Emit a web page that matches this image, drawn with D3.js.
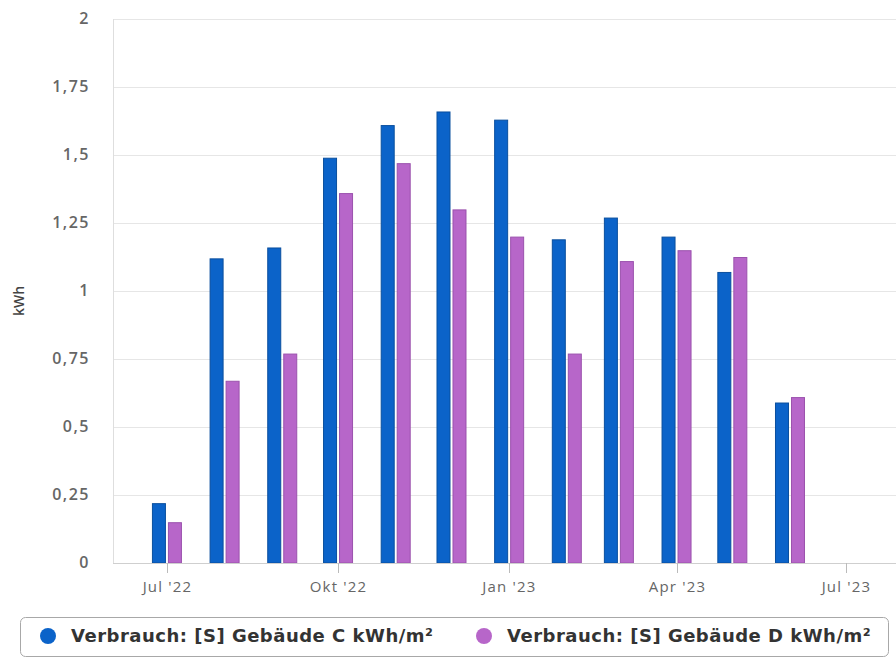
<!DOCTYPE html>
<html>
<head>
<meta charset="utf-8">
<script src="https://cdn.jsdelivr.net/npm/d3@7"></script>
<style>
  body { margin: 0; background: #fff; }
  svg { display: block; }
</style>
</head>
<body>
<div id="container"></div>
<script>
// monthly values, one pair per month (bars centred on month start)
const months = ["2022-07", "2022-08", "2022-09", "2022-10", "2022-11", "2022-12",
                "2023-01", "2023-02", "2023-03", "2023-04", "2023-05", "2023-06"];
const gebaeudeC = [0.22, 1.12, 1.16, 1.49, 1.61, 1.66, 1.63, 1.19, 1.27, 1.20, 1.07, 0.59];
const gebaeudeD = [0.15, 0.67, 0.77, 1.36, 1.47, 1.30, 1.20, 0.77, 1.11, 1.15, 1.125, 0.61];
const yTicks = [0, 0.25, 0.5, 0.75, 1, 1.25, 1.5, 1.75, 2];
const xTicks = ["2022-07", "2022-10", "2023-01", "2023-04", "2023-07"];
const seriesNames = ["Verbrauch: [S] Gebäude C kWh/m²", "Verbrauch: [S] Gebäude D kWh/m²"];

const BLUE = "#0b63c9", BLUE_EDGE = "#0a4f9e";
const PINK = "#b766c9", PINK_EDGE = "#9b52ad";

const width = 896, height = 661;
const parse = d3.timeParse("%Y-%m");
const deMonths = ["Jan", "Feb", "Mär", "Apr", "Mai", "Jun", "Jul", "Aug", "Sep", "Okt", "Nov", "Dez"];
const fmtX = d => `${deMonths[d.getMonth()]} '${String(d.getFullYear()).slice(2)}`;
const fmtY = d => String(d).replace(".", ",");

const svg = d3.select("#container").append("svg")
  .attr("width", width).attr("height", height);

const x = d3.scaleTime()
  .domain([new Date(2022, 5, 2), new Date(2023, 6, 28)])
  .range([113, 896]);
const y = d3.scaleLinear().domain([0, 2]).range([563, 19]);

// gridlines
svg.append("g")
  .selectAll("line")
  .data(yTicks.filter(d => d > 0))
  .join("line")
  .attr("x1", 113).attr("x2", width)
  .attr("y1", d => y(d) + 0.5).attr("y2", d => y(d) + 0.5)
  .attr("stroke", "#e6e6e6");

// left plot border
svg.append("line")
  .attr("x1", 113.5).attr("x2", 113.5)
  .attr("y1", 19).attr("y2", 563)
  .attr("stroke", "#dedede");

// y axis labels
svg.append("g")
  .selectAll("text")
  .data(yTicks)
  .join("text")
  .attr("x", 90).attr("y", d => y(d) + 5)
  .attr("text-anchor", "end")
  .attr("font-family", "Open Sans, sans-serif")
  .attr("font-size", "16px")
  .attr("font-weight", 600)
  .attr("letter-spacing", "1.5px")
  .attr("fill", "#666")
  .text(fmtY);

svg.append("text")
  .attr("transform", "translate(24,301) rotate(-90)")
  .attr("text-anchor", "middle")
  .attr("font-family", "Open Sans, sans-serif")
  .attr("font-size", "14px")
  .attr("font-weight", 600)
  .attr("fill", "#444")
  .text("kWh");

// bars
const barW = 14, gap = 2;
const data = months.map((m, i) => ({date: parse(m), c: gebaeudeC[i], d: gebaeudeD[i]}));

svg.append("g")
  .selectAll("rect")
  .data(data)
  .join("rect")
  .attr("x", d => x(d.date) - gap / 2 - barW + 0.5)
  .attr("y", d => y(d.c) + 0.5)
  .attr("width", barW - 1)
  .attr("height", d => y(0) - y(d.c) - 0.5)
  .attr("fill", BLUE)
  .attr("stroke", BLUE_EDGE);

svg.append("g")
  .selectAll("rect")
  .data(data)
  .join("rect")
  .attr("x", d => x(d.date) + gap / 2 + 0.5)
  .attr("y", d => y(d.d) + 0.5)
  .attr("width", barW - 1)
  .attr("height", d => y(0) - y(d.d) - 0.5)
  .attr("fill", PINK)
  .attr("stroke", PINK_EDGE);

// x axis line
svg.append("line")
  .attr("x1", 113).attr("x2", width)
  .attr("y1", 563.5).attr("y2", 563.5)
  .attr("stroke", "#cfcfcf");

const xAxis = svg.append("g")
  .selectAll("g")
  .data(xTicks.map(parse))
  .join("g")
  .attr("transform", d => `translate(${Math.round(x(d)) + 0.5},0)`);

xAxis.append("line")
  .attr("y1", 563).attr("y2", 573)
  .attr("stroke", "#bbb");

xAxis.append("text")
  .attr("y", 592)
  .attr("text-anchor", "middle")
  .attr("font-family", "Open Sans, sans-serif")
  .attr("font-size", "15px")
  .attr("letter-spacing", "1.2px")
  .attr("fill", "#666")
  .text(fmtX);

// legend
svg.append("rect")
  .attr("x", 20.5).attr("y", 617.5)
  .attr("width", 868).attr("height", 39)
  .attr("rx", 5)
  .attr("fill", "#fff")
  .attr("stroke", "#a8a8a8");

const legend = svg.append("g")
  .selectAll("g")
  .data(seriesNames)
  .join("g")
  .attr("transform", (d, i) => `translate(${i ? 484 : 48},636)`);

legend.append("circle")
  .attr("r", 8)
  .attr("fill", (d, i) => i ? PINK : BLUE);

legend.append("text")
  .attr("x", 23).attr("y", 6)
  .attr("font-family", "DejaVu Sans, sans-serif")
  .attr("font-size", "18px")
  .attr("font-weight", "bold")
  .attr("letter-spacing", "0.5px")
  .attr("fill", "#333")
  .text(d => d);
</script>
</body>
</html>
